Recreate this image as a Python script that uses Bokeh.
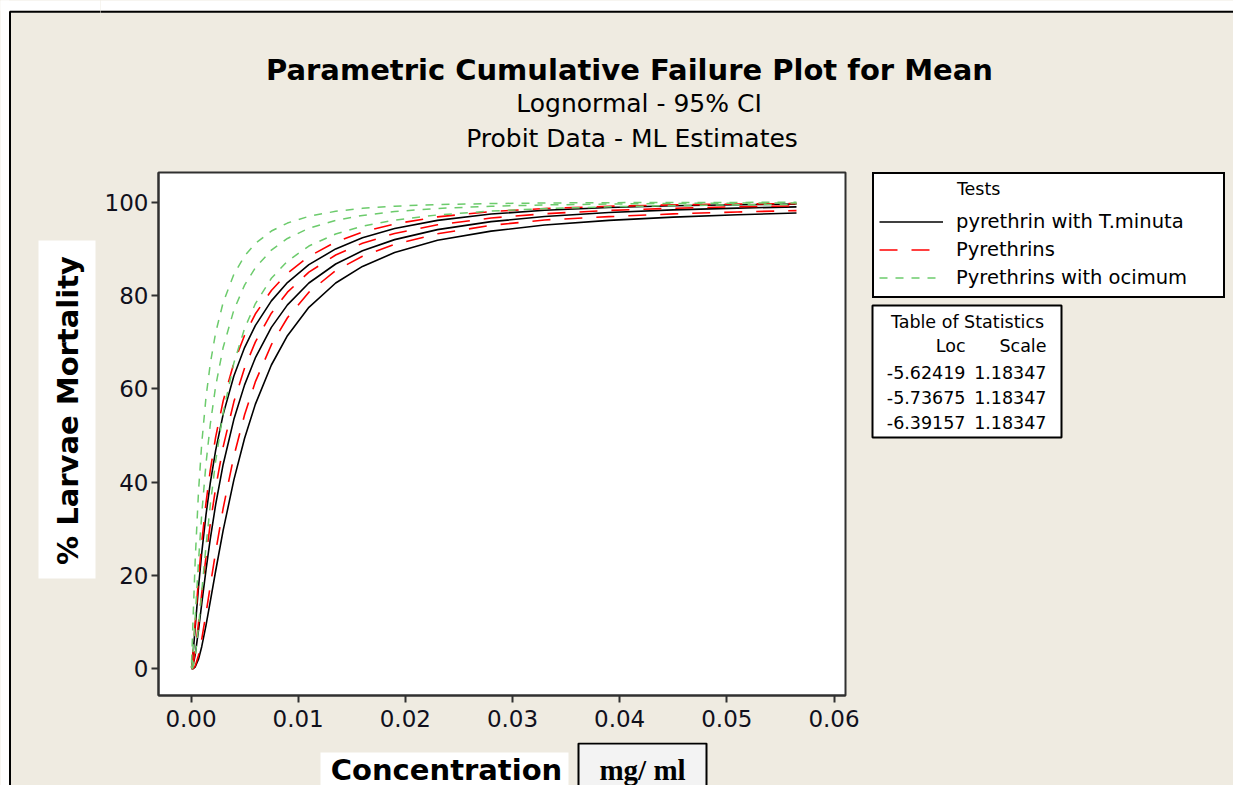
import math
from bokeh.plotting import figure
from bokeh.layouts import row, column
from bokeh.models import Label, Legend, LegendItem, BoxAnnotation, Range1d, FixedTicker, NumeralTickFormatter
from bokeh.embed import file_html
from bokeh.resources import INLINE

# ---------------- data ----------------
conc = [0.00005, 0.0001, 0.0002, 0.0004, 0.0007, 0.001, 0.0014, 0.0018, 0.0023, 0.003, 0.004, 0.005,
        0.006, 0.0075, 0.009, 0.011, 0.0135, 0.016, 0.019, 0.023, 0.028, 0.033, 0.039, 0.045, 0.051, 0.0565]

black_upper = [0.25, 1.02, 3.37, 9.09, 17.47, 24.81, 33.04, 39.83, 46.80, 54.52, 62.75, 68.85, 73.54,
               78.85, 82.77, 86.61, 89.99, 92.36, 94.36, 96.11, 97.46, 98.27, 98.87, 99.23, 99.46, 99.60]
black_mean = [0.01, 0.12, 0.73, 3.15, 8.29, 13.91, 21.18, 27.83, 35.17, 43.79, 53.46, 60.85, 66.62,
              73.17, 77.99, 82.68, 86.75, 89.58, 91.98, 94.12, 95.83, 96.92, 97.78, 98.35, 98.74, 98.99]
black_lower = [0.00, 0.00, 0.04, 0.43, 2.05, 4.74, 9.32, 14.44, 20.96, 29.66, 40.50, 49.42, 56.67,
               65.11, 71.39, 77.47, 82.68, 86.24, 89.21, 91.85, 93.80, 95.10, 96.10, 96.80, 97.30, 97.70]

red_upper = [0.29, 1.18, 3.86, 10.18, 19.22, 27.00, 35.58, 42.57, 49.66, 57.40, 65.54, 71.49, 76.03,
             81.09, 84.79, 88.37, 91.47, 93.60, 95.35, 96.86, 97.99, 98.65, 99.13, 99.42, 99.60, 99.70]
red_mean = [0.02, 0.17, 0.94, 3.89, 9.84, 16.12, 24.04, 31.11, 38.76, 47.56, 57.22, 64.45, 70.00,
            76.21, 80.71, 85.01, 88.68, 91.20, 93.30, 95.15, 96.61, 97.53, 98.24, 98.70, 99.02, 99.22]
red_lower = [0.00, 0.00, 0.07, 0.67, 2.90, 6.33, 11.87, 17.79, 25.06, 34.38, 45.57, 54.45, 61.48,
             69.46, 75.24, 80.72, 85.32, 88.42, 90.97, 93.23, 95.03, 96.20, 96.90, 97.50, 97.90, 98.20]

green_upper = [1.36, 4.33, 11.20, 23.74, 37.96, 48.26, 58.20, 65.40, 72.02, 78.51, 84.55, 88.47, 91.15,
               93.82, 95.53, 96.98, 98.05, 98.69, 99.15, 99.49, 99.71, 99.83, 99.90, 99.94, 99.96, 99.97]
green_mean = [0.15, 0.86, 3.62, 11.31, 23.04, 33.14, 43.97, 52.41, 60.55, 68.87, 76.89, 82.22, 85.94,
              89.73, 92.23, 94.41, 96.11, 97.17, 97.99, 98.66, 99.13, 99.41, 99.61, 99.73, 99.80, 99.85]
green_lower = [0.00, 0.04, 0.42, 2.78, 9.02, 16.47, 26.29, 35.11, 44.49, 54.87, 65.54, 72.93, 78.22,
               83.70, 87.36, 90.61, 93.19, 94.85, 96.17, 97.27, 98.11, 98.62, 99.01, 99.27, 99.44, 99.55]

test_names = ["pyrethrin with T.minuta", "Pyrethrins", "Pyrethrins with ocimum"]
stat_loc = ["-5.62419", "-5.73675", "-6.39157"]
stat_scale = ["1.18347", "1.18347", "1.18347"]
x_ticks = [0.0, 0.01, 0.02, 0.03, 0.04, 0.05, 0.06]
y_ticks = [0, 20, 40, 60, 80, 100]

# ---------------- styling ----------------
BEIGE = "#EFEBE1"
FONT = "DejaVu Sans"
TOTAL_W, TOTAL_H = 1233, 785
styles = [dict(line_color="black", line_width=1.6),
          dict(line_color="#FF0000", line_width=1.6, line_dash="18 14"),
          dict(line_color="#6CCB6C", line_width=1.5, line_dash="8 8")]


def aux(x0, y0, w, h, top_b=0, bot_b=0):
    # pixel-addressed panel: data x = page px, data y = -page py
    f = figure(width=w, height=h, output_backend="svg", toolbar_location=None,
               x_range=Range1d(x0, x0 + w), y_range=Range1d(-(y0 + h - bot_b), -(y0 + top_b)),
               x_axis_type=None, y_axis_type=None, min_border=0,
               min_border_top=top_b, min_border_bottom=bot_b)
    f.outline_line_color = None
    f.background_fill_color = BEIGE
    f.border_fill_color = BEIGE
    f.grid.visible = False
    f.title.visible = False
    return f


def lab(f, px, py, text, size, font=FONT, style="normal", align="center", angle=0.0):
    f.add_layout(Label(x=px, y=-py, text=text, text_font=font, text_font_size=size,
                       text_font_style=style, text_align=align, text_baseline="middle",
                       angle=angle, text_color="black"))


def box(f, l, t, r, b, fill="white", line="black", lw=2):
    f.add_layout(BoxAnnotation(left=l, right=r, top=-t, bottom=-b,
                               fill_color=fill if fill else "white", fill_alpha=1 if fill else 0,
                               line_color=line if line else "black", line_alpha=1 if line else 0,
                               line_width=lw))

# ---------------- left strip (full height): border + y label ----------------
LW = 100
left = aux(0, 0, LW, TOTAL_H)
box(left, -50, -50, 8.5, 5000, line=None)
box(left, -50, -50, 5000, 10.2, line=None)
box(left, 9.5, 11.2, 5000, 5000, fill=None)
box(left, 38, 240, 95, 578, line=None)
lab(left, 67, 410, "% Larvae Mortality", "29px", style="bold", angle=math.pi / 2)

# ---------------- top strip: titles ----------------
TH = 160
top = aux(LW, 0, TOTAL_W - LW, TH)
box(top, -5000, -50, 5000, 10.2, line=None)
box(top, -5000, 11.2, 5000, 5000, fill=None)
lab(top, 629, 69, "Parametric Cumulative Failure Plot for Mean", "29px", style="bold")
lab(top, 638.5, 103, "Lognormal - 95% CI", "25px")
lab(top, 631.5, 138, "Probit Data - ML Estimates", "25px")

# ---------------- main plot ----------------
MW, MH = 760, 582
FL, FT, FR, FB = 158, 172, 845, 695
X0, X6 = 190.5, 833.5
Y0, Y100 = 668.3, 201.7
kx = (X6 - X0) / 0.06
ky = (Y0 - Y100) / 100.0

p = figure(width=MW, height=MH, output_backend="svg", toolbar_location=None,
           x_range=Range1d((FL - X0) / kx, (FR - X0) / kx),
           y_range=Range1d((Y0 - FB) / ky, (Y0 - FT) / ky),
           min_border_left=FL - LW, min_border_right=LW + MW - FR,
           min_border_top=FT - TH, min_border_bottom=TH + MH - FB)
p.title.visible = False
p.background_fill_color = "white"
p.border_fill_color = BEIGE
p.outline_line_color = "#303030"
p.outline_line_width = 2
p.xgrid.visible = False
p.ygrid.visible = False
for ax in (p.xaxis[0], p.yaxis[0]):
    ax.axis_line_color = "#303030"
    ax.axis_line_width = 2
    ax.major_tick_line_color = "#303030"
    ax.major_tick_line_width = 2
    ax.major_tick_in = 0
    ax.major_tick_out = 7
    ax.minor_tick_line_color = None
    ax.major_label_text_font = FONT
    ax.major_label_text_font_size = "23px"
    ax.major_label_text_color = "#10101c"
p.xaxis.ticker = FixedTicker(ticks=x_ticks)
p.xaxis.formatter = NumeralTickFormatter(format="0.00")
p.xaxis.major_label_standoff = 7
p.yaxis.ticker = FixedTicker(ticks=y_ticks)
p.yaxis.major_label_standoff = 3

series = [(black_upper, black_mean, black_lower),
          (red_upper, red_mean, red_lower),
          (green_upper, green_mean, green_lower)]
for i, trio in enumerate(series):
    for ys in trio:
        p.line(conc, ys, **styles[i])

# ---------------- right strip: legend + statistics ----------------
RX = LW + MW
right = aux(RX, TH, TOTAL_W - RX, MH, top_b=FT - TH, bot_b=TH + MH - FB)
right.extra_x_ranges = {"off": Range1d(1, 2)}
keys = [right.line(conc, series[i][1], x_range_name="off", **styles[i]) for i in range(3)]
names = list(test_names)
names[2] = names[2] + "\u00a0" * 5
leg = Legend(items=[LegendItem(label=n, renderers=[r]) for n, r in zip(names, keys)],
             location=(12, 397), orientation="vertical",
             title="\u00a0" * 14 + "Tests", title_text_font=FONT, title_text_font_size="17.5px",
             title_text_font_style="normal", title_text_color="black", title_standoff=9,
             border_line_color="black", border_line_width=2, border_line_alpha=1,
             background_fill_color="white", background_fill_alpha=1,
             padding=5, spacing=1, label_height=27, glyph_height=27,
             glyph_width=64, label_standoff=13,
             label_text_font=FONT, label_text_font_size="19.5px", label_text_color="black")
right.add_layout(leg)

box(right, 872, 305, 1061, 437)
lab(right, 967, 321.5, "Table of Statistics", "17.5px")
lab(right, 965, 345.5, "Loc", "17.5px", align="right")
lab(right, 1046, 345.5, "Scale", "17.5px", align="right")
for k in range(3):
    lab(right, 965, 371.5 + 25 * k, stat_loc[k], "17.5px", align="right")
    lab(right, 1046, 371.5 + 25 * k, stat_scale[k], "17.5px", align="right")

# ---------------- bottom strip: x label ----------------
BY = TH + MH
bottom = aux(LW, BY, TOTAL_W - LW, TOTAL_H - BY)
box(bottom, 320, 752, 568, 800, line=None)
lab(bottom, 446, 769, "Concentration", "29px", style="bold")
box(bottom, 578, 743, 706, 810, fill="#F3F3F3")
lab(bottom, 642, 769, "mg/ ml", "29px", font="Liberation Serif", style="bold")

bg = {"background-color": BEIGE}
layout = row(left, column(top, row(p, right, styles=bg), bottom, styles=bg), styles=bg)
open("out.html", "w").write(file_html(layout, INLINE))
